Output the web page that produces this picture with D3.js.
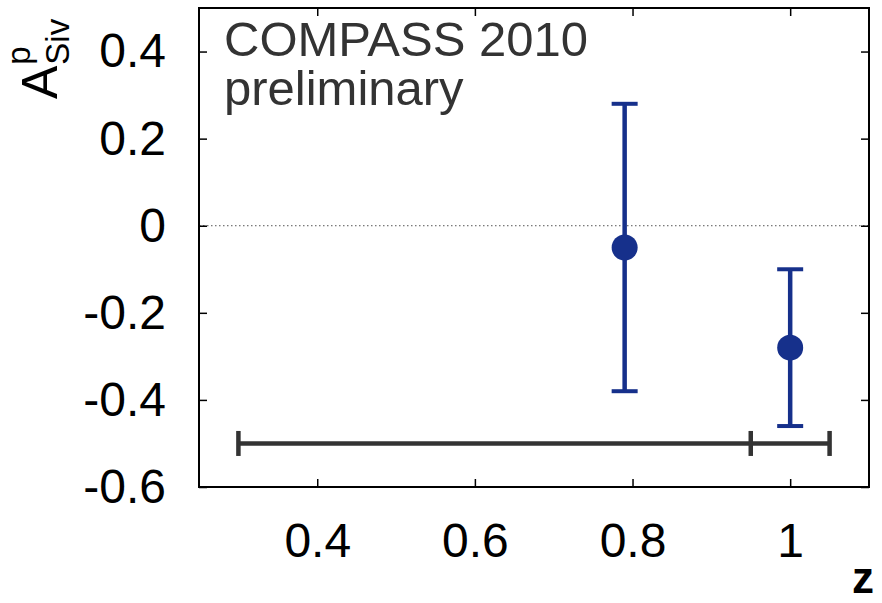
<!DOCTYPE html>
<html>
<head>
<meta charset="utf-8">
<script src="https://cdn.jsdelivr.net/npm/d3@7"></script>
<style>
  html, body { margin: 0; padding: 0; background: #fff; }
  svg { display: block; font-family: "Liberation Sans", Arial, Helvetica, sans-serif; }
</style>
</head>
<body>
<svg id="chart" width="882" height="603"></svg>
<script>
// Sivers asymmetry of the proton vs z (COMPASS 2010, preliminary)
const zPoints   = [0.79, 1.0];
const asymmetry = [-0.05, -0.28];
const errUpper  = [0.28, -0.10];
const errLower  = [-0.38, -0.46];

// z-bin boundaries drawn as a bar at A = -0.5
const binEdges = [0.3, 0.95, 1.05];
const binLevel = -0.5;

const xTicks = [0.4, 0.6, 0.8, 1.0];
const xTickLabels = ["0.4", "0.6", "0.8", "1"];
const yTicks = [-0.6, -0.4, -0.2, 0, 0.2, 0.4];
const yTickLabels = ["-0.6", "-0.4", "-0.2", "0", "0.2", "0.4"];

const svg = d3.select("#chart");
const frame = { left: 199, right: 869, top: 8, bottom: 487 };

const x = d3.scaleLinear().domain([0.25, 1.1]).range([frame.left, frame.right]);
const y = d3.scaleLinear().domain([-0.6, 0.5]).range([frame.bottom, frame.top]);

const blue = "#16308b";
const gray = "#333333";

// zero line
svg.append("line")
  .attr("x1", frame.left).attr("x2", frame.right)
  .attr("y1", y(0)).attr("y2", y(0))
  .attr("stroke", "#555").attr("stroke-width", 1)
  .attr("stroke-dasharray", "1.5,2.5");

// axes with inward ticks on all four sides
function styleAxis(g, fontSize) {
  g.select(".domain").remove();
  g.selectAll(".tick line").attr("stroke", "#000").attr("stroke-width", 1.5);
  g.selectAll(".tick text")
    .attr("fill", "#000")
    .style("font-size", fontSize + "px")
    .style("font-family", '"Liberation Sans", Arial, sans-serif');
}

svg.append("g")
  .attr("transform", `translate(0,${frame.bottom})`)
  .call(d3.axisBottom(x).tickValues(xTicks).tickSize(-8).tickPadding(36)
    .tickFormat((d, i) => xTickLabels[i]))
  .call(g => styleAxis(g, 48));

svg.append("g")
  .attr("transform", `translate(0,${frame.top})`)
  .call(d3.axisTop(x).tickValues(xTicks).tickSize(-8).tickFormat(""))
  .call(g => styleAxis(g, 48));

svg.append("g")
  .attr("transform", `translate(${frame.left},0)`)
  .call(d3.axisLeft(y).tickValues(yTicks).tickSize(-8).tickPadding(33)
    .tickFormat((d, i) => yTickLabels[i]))
  .call(g => styleAxis(g, 48));

svg.append("g")
  .attr("transform", `translate(${frame.right},0)`)
  .call(d3.axisRight(y).tickValues(yTicks).tickSize(-8).tickFormat(""))
  .call(g => styleAxis(g, 48));

// frame
svg.append("rect")
  .attr("x", frame.left).attr("y", frame.top)
  .attr("width", frame.right - frame.left)
  .attr("height", frame.bottom - frame.top)
  .attr("fill", "none").attr("stroke", "#000").attr("stroke-width", 2);

// z-bin bar
svg.append("line")
  .attr("x1", x(binEdges[0])).attr("x2", x(binEdges[binEdges.length - 1]))
  .attr("y1", y(binLevel)).attr("y2", y(binLevel))
  .attr("stroke", gray).attr("stroke-width", 4.5);
svg.selectAll(".bin-edge").data(binEdges).join("line")
  .attr("class", "bin-edge")
  .attr("x1", d => x(d)).attr("x2", d => x(d))
  .attr("y1", y(binLevel) - 12.5).attr("y2", y(binLevel) + 12.5)
  .attr("stroke", gray).attr("stroke-width", 4.5);

// error bars and points
const pts = zPoints.map((z, i) => ({ z, a: asymmetry[i], hi: errUpper[i], lo: errLower[i] }));
const capHalf = 13;
const eb = svg.selectAll(".pt").data(pts).join("g").attr("class", "pt");
eb.append("line")
  .attr("x1", d => x(d.z)).attr("x2", d => x(d.z))
  .attr("y1", d => y(d.hi)).attr("y2", d => y(d.lo))
  .attr("stroke", blue).attr("stroke-width", 4.5);
eb.append("line")
  .attr("x1", d => x(d.z) - capHalf).attr("x2", d => x(d.z) + capHalf)
  .attr("y1", d => y(d.hi)).attr("y2", d => y(d.hi))
  .attr("stroke", blue).attr("stroke-width", 4);
eb.append("line")
  .attr("x1", d => x(d.z) - capHalf).attr("x2", d => x(d.z) + capHalf)
  .attr("y1", d => y(d.lo)).attr("y2", d => y(d.lo))
  .attr("stroke", blue).attr("stroke-width", 4);
eb.append("circle")
  .attr("cx", d => x(d.z)).attr("cy", d => y(d.a))
  .attr("r", 13).attr("fill", blue);

// experiment tag
svg.append("text")
  .attr("x", 224).attr("y", 56)
  .attr("fill", "#333").style("font-size", "49px")
  .text("COMPASS 2010");
svg.append("text")
  .attr("x", 224).attr("y", 105)
  .attr("fill", "#333").style("font-size", "49px")
  .text("preliminary");

// x axis title
svg.append("text")
  .attr("x", 874).attr("y", 593)
  .attr("text-anchor", "end")
  .attr("fill", "#000").style("font-size", "44px").style("font-weight", "bold")
  .text("z");

// y axis title: A with superscript p and subscript Siv, stacked
const yTitle = svg.append("g").attr("transform", "translate(57,99) rotate(-90)");
const aText = yTitle.append("text")
  .attr("x", 0).attr("y", 0)
  .attr("fill", "#000").style("font-size", "50px")
  .text("A");
const aw = aText.node().getComputedTextLength();
yTitle.append("text")
  .attr("x", aw + 1).attr("y", -27)
  .attr("fill", "#000").style("font-size", "33px")
  .text("p");
yTitle.append("text")
  .attr("x", aw + 1).attr("y", 12)
  .attr("fill", "#000").style("font-size", "33px")
  .text("Siv");
</script>
</body>
</html>
